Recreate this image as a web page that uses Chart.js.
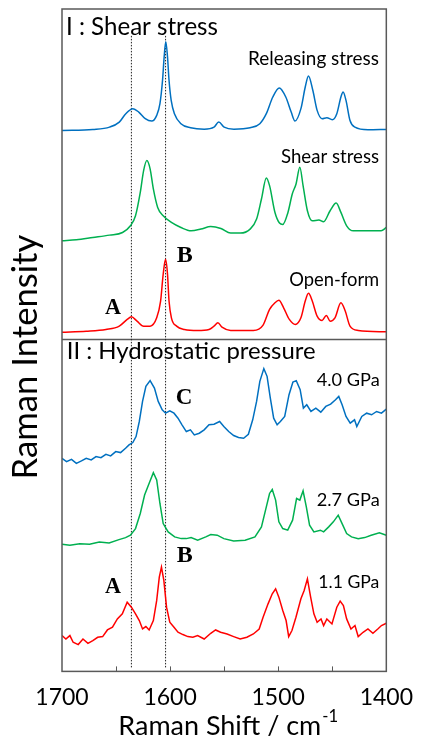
<!DOCTYPE html>
<html>
<head>
<meta charset="utf-8">
<script src="https://cdn.jsdelivr.net/npm/chart.js@4"></script>
<style>
html,body{margin:0;padding:0;background:#fff;}
#wrap{width:425px;height:740px;}
</style>
</head>
<body>
<div id="wrap"><canvas id="c" width="425" height="740"></canvas></div>
<script>
// ---- Data (Raman shift in cm-1, intensity in arbitrary offset units) ----
const xTickLabels = [1700, 1600, 1500, 1400];

const releasingX = [1700,1671.5,1656,1647,1641,1634.5,1629,1623,1617,1612.4,1609.4,1607,1605.5,1604,1602.4,1601,1599,1596,1590,1581,1568.5,1559.4,1555,1550,1541,1526,1517,1511,1505,1499,1493,1488,1484.5,1479,1475,1472,1468,1464,1459.4,1455,1450,1445.8,1442,1440,1437.3,1433.6,1429,1417,1400];
const releasingY = [539,540,542.3,547.3,555.7,560.7,557.3,550.7,548.3,554,565.7,589,612.3,627.3,612.3,589,569,555.7,545.7,541.7,540.3,542.3,547.3,542.3,540.3,541.7,545.7,555.7,572.3,581.3,572.3,557.3,548.3,560.7,582.3,593.3,579,559,550.7,551.7,549.7,555.7,572.3,577.3,569,549,542.3,539.7,540];

const shearX = [1700,1686.7,1671.5,1656,1644,1636.7,1632,1627.6,1624.5,1621.5,1618.5,1615.5,1611.5,1606.4,1598.8,1590,1580.6,1571.5,1562.4,1553,1544,1535,1526,1520,1515.5,1511,1508,1503,1498.8,1495.8,1491,1487,1483.5,1480,1477,1473,1468.5,1462.4,1458,1452,1446.4,1442,1436.7,1430.6,1417,1404.8,1400];
const shearY = [429,430,432.3,434.7,437.3,444,454,477.3,499,509,500.7,480.7,462.3,454,447.3,442.3,439,440.7,443.3,441.3,436.7,436.7,440.7,450.7,470.7,491.7,484,457.3,446.7,445.3,457.3,475.7,485.7,502.3,484,459,449,449.7,448,459,466.7,457.3,444,439,439,439,442.3];

const openX = [1700,1677.6,1659.4,1647,1639.7,1635.8,1630.6,1624.5,1618.5,1612.4,1608.8,1606.4,1604.2,1602.4,1601,1598.8,1594,1586.7,1574.5,1564,1559.4,1555.8,1552,1544,1523,1514,1508,1503,1499.4,1495,1489.7,1484.2,1479,1475,1472,1468.5,1464,1459.4,1455.5,1452,1447.5,1442,1438,1433.6,1426,1400];
const openY = [338,339,340.7,344,350.7,353.3,349,344,344,352.3,369,395.7,410.7,395.7,369,352.3,344,340.7,339.7,340.7,344,347.3,343,339.7,339.7,345,360.7,367.3,369.7,362.3,350.7,345.7,352.3,369,376.7,369,354,349.7,354.7,349,352.3,367.3,359,344,339.7,338.3];

const gpa40X = [1700,1695.8,1691.2,1686.7,1682,1677.6,1673,1668.5,1664,1659.4,1655,1650.3,1645.8,1641.2,1638,1634.5,1631.5,1628.5,1625.5,1622.4,1618.5,1614.5,1611,1607.3,1604.2,1600.3,1596.4,1592.7,1589,1585,1581.2,1577.6,1573,1568.5,1564,1559.4,1554.2,1550.3,1545.8,1541.2,1536.7,1532,1527.6,1523.6,1520,1517,1513.3,1510.3,1507.3,1504.2,1501,1498,1494,1490,1486.4,1483.3,1479.7,1476.7,1473.6,1469.7,1465.2,1460.6,1456,1451.5,1447,1444,1440.9,1437.3,1433.4,1429.4,1427.3,1422.7,1418.2,1413.6,1409,1404.5,1400];
const gpa40Y = [212.3,209,211.3,207.3,209.7,212.3,210.7,214,213,216.3,214.7,219,218,222.3,225.7,228,234,249,269,284,289.7,282.3,269,260.7,257.3,259.7,257.3,252.3,245.7,239,240.7,235.7,237.3,240.7,245.7,246.3,249,244,239,235,233,232.3,236.3,250.7,269,289,301.7,294,272.3,252.3,245.7,249,254,275.7,288.3,289.7,280.7,262.3,265.7,259,262.3,258.3,264,266.3,270.7,274,265.7,254,247.3,250.7,244,254,257.3,255.7,259,257.3,261.3];

const gpa27X = [1700,1692.7,1683.6,1674.5,1665.5,1656.4,1647.3,1641.2,1636.7,1632,1627.6,1623.6,1620,1615.5,1612.4,1609.4,1606.4,1601.8,1595.8,1589.7,1585,1580.6,1574.5,1567,1562.4,1556.4,1550.3,1541.2,1530.6,1521.5,1515.5,1511,1508,1505.5,1502.4,1499.4,1495.8,1491.2,1486.7,1483,1480,1477,1474,1471,1467,1461,1458,1453.3,1449,1444.5,1440.9,1436.7,1432.2,1426,1420,1414,1406.4,1400];
const gpa27Y = [126.7,125.7,127.3,126.7,129,128,131.3,133.3,135.7,142.3,157.3,175.7,185.7,198,190.7,167.3,147.3,139,134,132.3,132.3,133.3,130.7,134,136.3,135.7,132.3,130,130.7,134,144,164,177.3,181.3,170.7,149,142.3,140.7,150.7,172.3,170.7,180,164,145.7,139,140.7,139,144,149,155.7,147.3,137.3,134,132.3,133.3,135.7,138,135.7];

const gpa11X = [1700,1696.4,1692.7,1689.7,1685,1680.6,1676,1671.5,1667,1662.4,1658,1653.3,1648.8,1644.2,1639.7,1635.8,1632,1628.5,1625.5,1622.4,1619.4,1615.5,1612.4,1610,1608,1605.8,1603.3,1600.3,1596.4,1592.7,1588.2,1583.6,1579,1574.5,1568.5,1562.4,1557.9,1553.3,1547.3,1541.2,1535.2,1529,1523,1517.6,1514,1509.4,1505.5,1502.4,1499.4,1495.8,1492.7,1490.3,1487.3,1483.6,1479,1476,1473,1470,1467,1464,1460.4,1458,1455,1450.3,1445.8,1442.7,1439.7,1436.7,1432.7,1429,1426,1421.5,1417,1412.4,1407.9,1404.5,1400];
const gpa11Y = [35.7,32.3,35.7,29,26.7,32.3,28,30.7,34,34.7,41.3,44,52.3,57.3,69,64,57.3,50.7,42.3,44.7,41.3,50.7,70.7,94,104,90.7,64,49,44,39,36.7,34.7,34,35.7,32.3,38,41.3,39,37.3,34.7,32.3,34,37.3,42.3,54,67.3,77.3,82.3,74,60.7,50.7,34.7,40.7,54,72.3,80.7,92.3,74,57.3,49,52.3,45.7,52.3,47.3,64,70,65.7,52.3,42.3,45.7,34.7,39,42.3,38,42.3,45.7,48];

// marker lines (band positions A and B) and panel divider
const bandA = 1635.8;
const bandB = 1604.2;
const markerRange = [4, 634];
const dividerLevel = 330.7;

const BLUE = '#0070C0', GREEN = '#00B050', RED = '#FF0000';

function pts(xs, ys){ const n = Math.min(xs.length, ys.length); const a=[]; for(let i=0;i<n;i++) a.push({x:xs[i], y:ys[i]}); return a; }
function spectrum(xs, ys, color, smooth){
  return { data: pts(xs, ys), borderColor: color, borderWidth: 1.5, pointRadius: 0, showLine: true, fill: false,
           cubicInterpolationMode: smooth ? 'monotone' : 'default', tension: 0 };
}
function vline(v, range){
  return { data: [{x:v,y:range[0]},{x:v,y:range[1]}], borderColor:'#222', borderWidth:1, borderDash:[1.5,1.5], pointRadius:0, showLine:true };
}

const labels = [
  {t:'I : Shear stress', l:66, b:35, w:152, fam:'Lato', wt:'normal'},
  {t:'Releasing stress', l:248, b:65, w:131, fam:'Lato', wt:'normal'},
  {t:'Shear stress', l:281, b:162.7, w:98, fam:'Lato', wt:'normal'},
  {t:'Open-form', l:289.3, b:285.7, w:90, fam:'Lato', wt:'normal'},
  {t:'II : Hydrostatic pressure', l:66.7, b:359, w:249, fam:'Lato', wt:'normal'},
  {t:'4.0 GPa', l:316.7, b:385.7, w:63, fam:'Lato', wt:'normal'},
  {t:'2.7 GPa', l:316.7, b:506, w:63, fam:'Lato', wt:'normal'},
  {t:'1.1 GPa', l:318.3, b:588, w:61, fam:'Lato', wt:'normal'},
  {t:'A', l:105, b:314, w:16, fam:'Liberation Serif', wt:'bold'},
  {t:'B', l:176.7, b:261.7, w:16, fam:'Liberation Serif', wt:'bold'},
  {t:'C', l:175.7, b:404.3, w:16.6, fam:'Liberation Serif', wt:'bold'},
  {t:'B', l:176.7, b:561.7, w:16, fam:'Liberation Serif', wt:'bold'},
  {t:'A', l:105, b:593.3, w:16, fam:'Liberation Serif', wt:'bold'}
];

function fitFont(ctx, t, w, fam, wt){
  ctx.font = wt + ' 20px "' + fam + '"';
  const m = ctx.measureText(t).width;
  const s = 20 * w / m;
  ctx.font = wt + ' ' + s.toFixed(2) + 'px "' + fam + '"';
  return s;
}

const deco = {
  id: 'deco',
  afterDatasetsDraw(chart){
    const {ctx, chartArea:a, scales:{x}} = chart;
    ctx.save();
    ctx.strokeStyle = '#595959'; ctx.lineWidth = 1.5;
    ctx.strokeRect(a.left, a.top, a.right - a.left, a.bottom - a.top);
    ctx.lineWidth = 1;
    for (const v of [1650,1600,1550,1500,1450]) {
      const px = Math.round(x.getPixelForValue(v)) + 0.5;
      ctx.beginPath(); ctx.moveTo(px, a.bottom); ctx.lineTo(px, a.bottom - 5); ctx.stroke();
    }
    ctx.fillStyle = '#000'; ctx.textAlign = 'left'; ctx.textBaseline = 'alphabetic';
    for (const L of labels) { fitFont(ctx, L.t, L.w, L.fam, L.wt); ctx.fillText(L.t, L.l, L.b); }
    // x-axis title with superscript
    const s = fitFont(ctx, 'Raman Shift / cm', 203, 'Lato', 'normal');
    ctx.fillText('Raman Shift / cm', 118.3, 735);
    const mw = ctx.measureText('Raman Shift / cm').width;
    ctx.font = (s*0.62).toFixed(2) + 'px "Lato"';
    ctx.fillText('-1', 118.3 + mw + 1, 722);
    // y-axis title
    ctx.save();
    ctx.translate(37, 357);
    ctx.rotate(-Math.PI/2);
    fitFont(ctx, 'Raman Intensity', 245, 'Lato', 'normal');
    ctx.textAlign = 'center';
    ctx.fillText('Raman Intensity', 0, 0);
    ctx.restore();
    ctx.restore();
  }
};

new Chart(document.getElementById('c'), {
  type: 'scatter',
  data: { datasets: [
    spectrum(releasingX, releasingY, BLUE, true),
    spectrum(shearX, shearY, GREEN, true),
    spectrum(openX, openY, RED, true),
    spectrum(gpa40X, gpa40Y, BLUE, false),
    spectrum(gpa27X, gpa27Y, GREEN, false),
    spectrum(gpa11X, gpa11Y, RED, false),
    vline(bandA, markerRange),
    vline(bandB, markerRange),
    { data: [{x:1700,y:dividerLevel},{x:1400,y:dividerLevel}], borderColor:'#595959', borderWidth:1.5, pointRadius:0, showLine:true }
  ]},
  options: {
    responsive: false, animation: false, devicePixelRatio: 1,
    layout: { padding: { left: 62, right: 33, top: 9, bottom: 17 } },
    plugins: { legend: { display: false }, tooltip: { enabled: false } },
    scales: {
      x: { type: 'linear', reverse: true, min: 1400, max: 1700,
           grid: { display: false, drawTicks: false }, border: { display: false },
           ticks: { stepSize: 100, padding: 12, color: '#000', font: { family: 'Lato', size: 23 },
                    callback: (v) => xTickLabels.includes(v) ? String(v) : '' } },
      y: { display: false, min: 0, max: 660 }
    }
  },
  plugins: [deco]
});
</script>
</body>
</html>
